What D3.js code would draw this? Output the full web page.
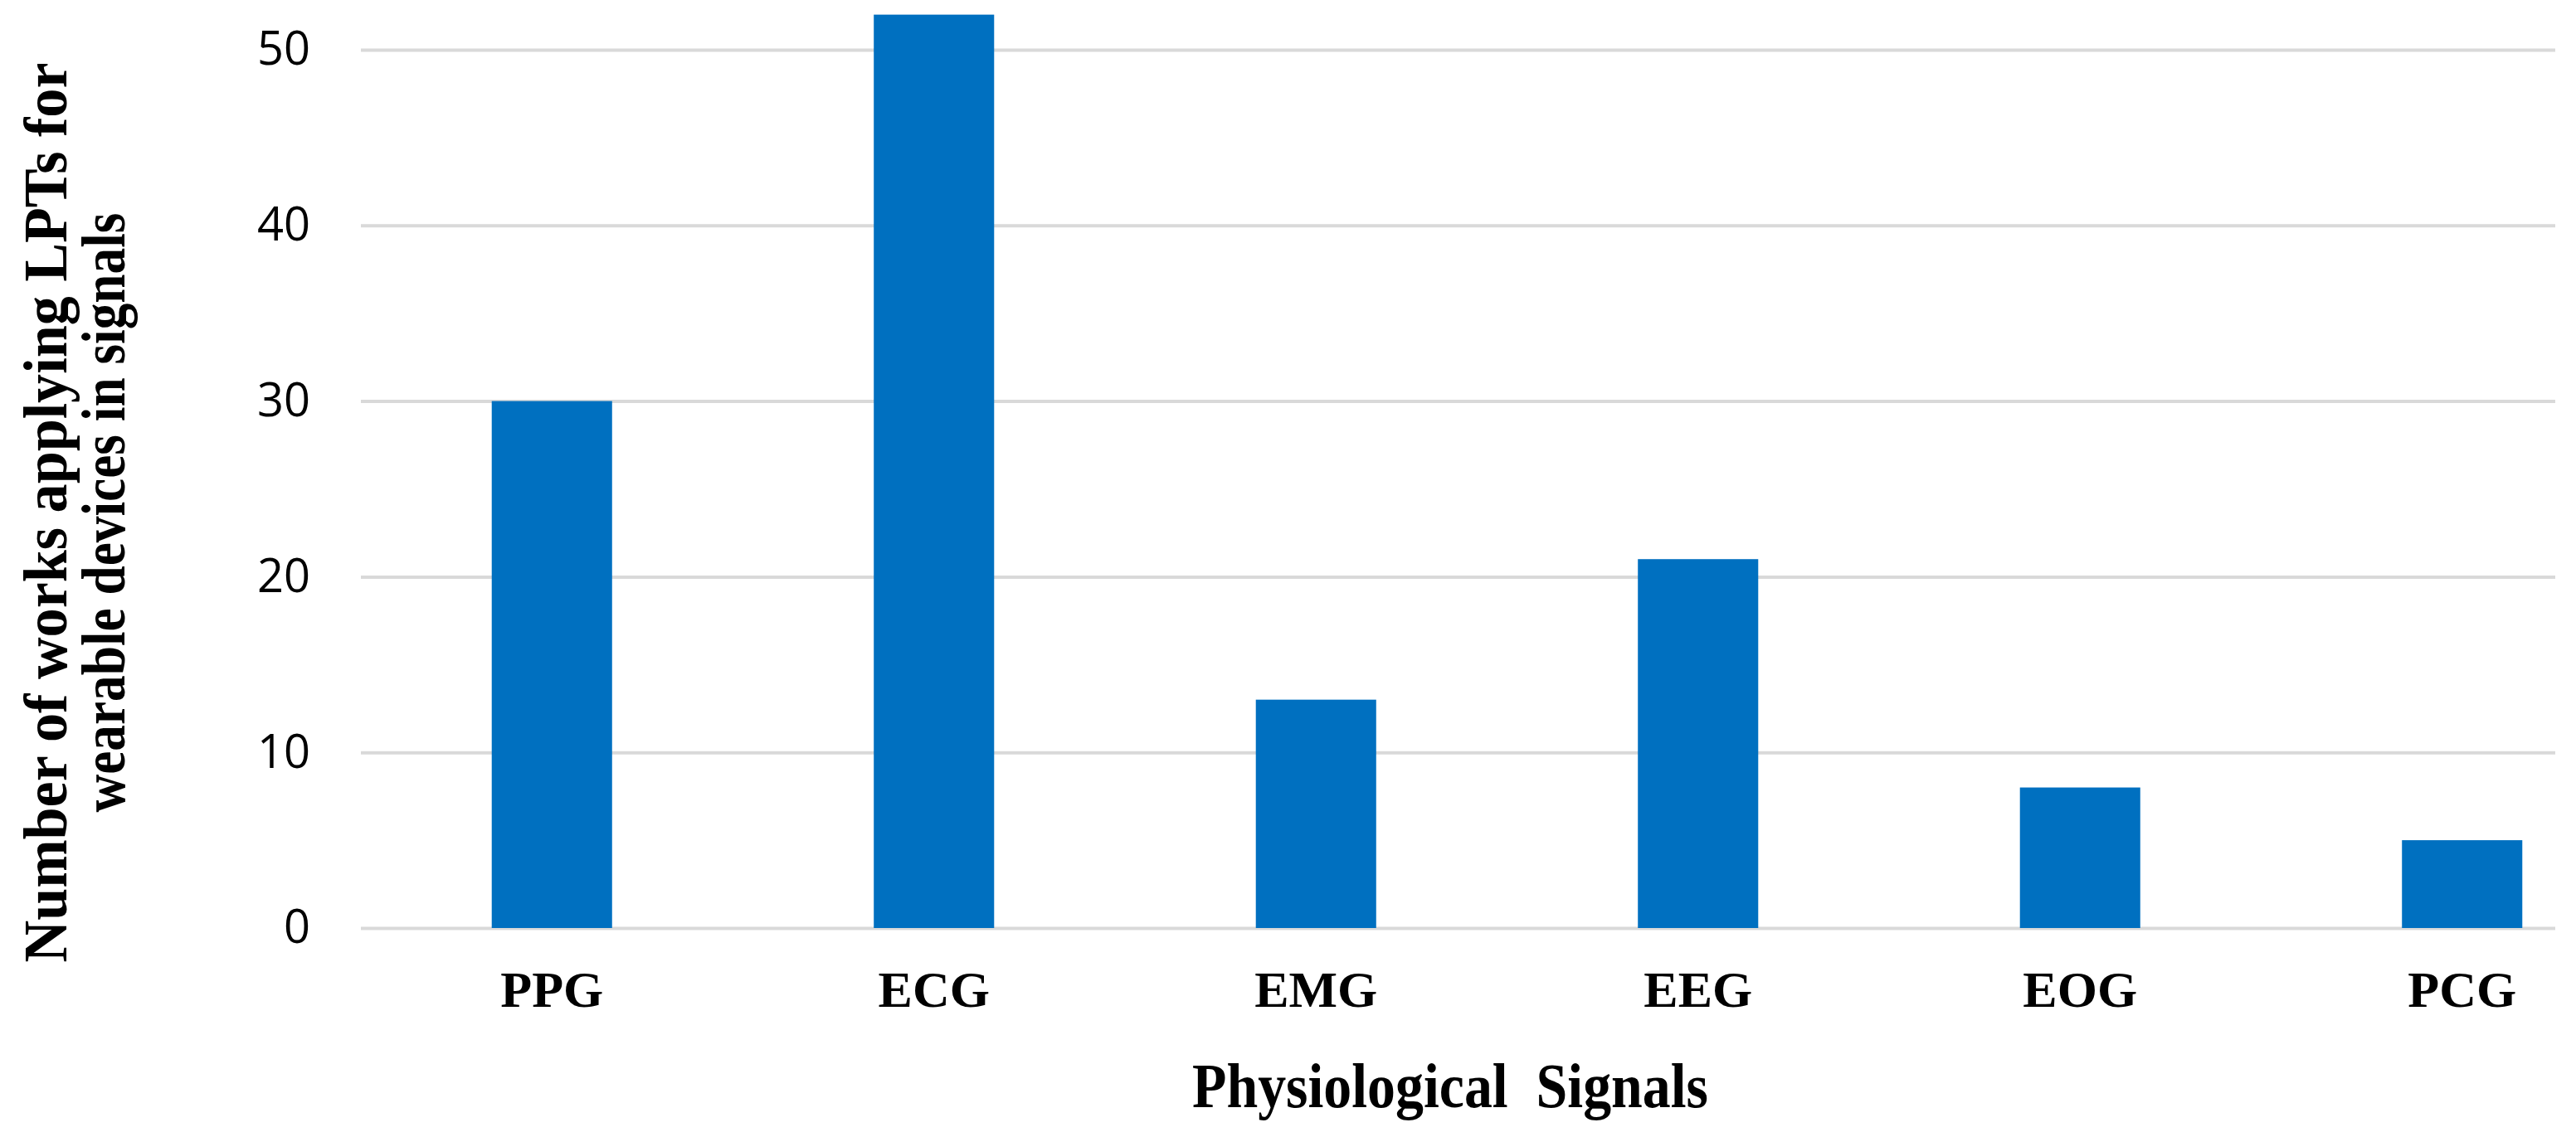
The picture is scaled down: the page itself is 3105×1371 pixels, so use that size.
<!DOCTYPE html>
<html>
<head>
<meta charset="utf-8">
<script src="https://cdn.jsdelivr.net/npm/d3@7"></script>
<style>
  html, body { margin: 0; padding: 0; background: #fff; }
  svg { display: block; }
</style>
</head>
<body>
<div id="chart"></div>
<script>
// ---- data ----
const categories = ["PPG", "ECG", "EMG", "EEG", "EOG", "PCG"];
const values = [30, 52, 13, 21, 8, 5];
const yTicks = [0, 10, 20, 30, 40, 50];
const yTitleLines = ["Number of works applying LPTs for", "wearable devices in signals"];
const xTitle = "Physiological  Signals";

// ---- layout ----
const W = 3105, H = 1371;
const plotLeft = 435, plotRight = 3198, gridRight = 3080;
const yZero = 1119, yFifty = 60;

const svg = d3.select("#chart").append("svg")
  .attr("width", W).attr("height", H)
  .attr("viewBox", `0 0 ${W} ${H}`);

const x = d3.scaleBand()
  .domain(categories)
  .range([plotLeft, plotRight])
  .paddingInner(0.685)
  .paddingOuter(0.3425);

const y = d3.scaleLinear().domain([0, 50]).range([yZero, yFifty]);

// gridlines
const grid = svg.append("g")
  .attr("transform", `translate(${plotLeft},0)`)
  .call(d3.axisLeft(y).tickValues(yTicks).tickSize(-(gridRight - plotLeft)).tickFormat(""));
grid.select(".domain").remove();
grid.selectAll(".tick line").attr("stroke", "#d9d9d9").attr("stroke-width", 4);

// y tick labels
const yAxis = svg.append("g")
  .attr("transform", `translate(${plotLeft},0)`)
  .call(d3.axisLeft(y).tickValues(yTicks).tickSize(0).tickPadding(61).tickFormat(d3.format("d")));
yAxis.select(".domain").remove();
yAxis.selectAll("text")
  .attr("font-family", "'Open Sans', sans-serif")
  .attr("font-size", 56)
  .attr("fill", "#000");

// bars
svg.append("g").selectAll("rect")
  .data(categories)
  .join("rect")
  .attr("x", d => x(d))
  .attr("width", x.bandwidth())
  .attr("y", (d, i) => y(values[i]))
  .attr("height", (d, i) => y(0) - y(values[i]))
  .attr("fill", "#0070c0");

// x labels
const xAxis = svg.append("g")
  .attr("transform", `translate(0,${yZero})`)
  .call(d3.axisBottom(x).tickSize(0).tickPadding(0));
xAxis.select(".domain").remove();
xAxis.selectAll("text")
  .attr("y", 95)
  .attr("dy", null)
  .attr("font-family", "'Liberation Serif', 'Times New Roman', serif")
  .attr("font-weight", "bold")
  .attr("font-size", 62)
  .attr("fill", "#000");

// x title
svg.append("text")
  .attr("x", 1748).attr("y", 1335)
  .attr("text-anchor", "middle")
  .attr("font-family", "'Liberation Serif', 'Times New Roman', serif")
  .attr("font-weight", "bold")
  .attr("font-size", 76)
  .attr("textLength", 622)
  .attr("lengthAdjust", "spacingAndGlyphs")
  .attr("fill", "#000")
  .style("white-space", "pre")
  .text(xTitle);

// y title (two lines, rotated)
const yTitleBaselines = [80, 150];
const yTitleLengths = [1085, 723];
yTitleLines.forEach((t, i) => {
  svg.append("text")
    .attr("transform", `translate(${yTitleBaselines[i]},618) rotate(-90)`)
    .attr("text-anchor", "middle")
    .attr("font-family", "'Liberation Serif', 'Times New Roman', serif")
    .attr("font-weight", "bold")
    .attr("font-size", 74)
    .attr("textLength", yTitleLengths[i])
    .attr("lengthAdjust", "spacingAndGlyphs")
    .attr("fill", "#000")
    .style("white-space", "pre")
    .text(t);
});
</script>
</body>
</html>
